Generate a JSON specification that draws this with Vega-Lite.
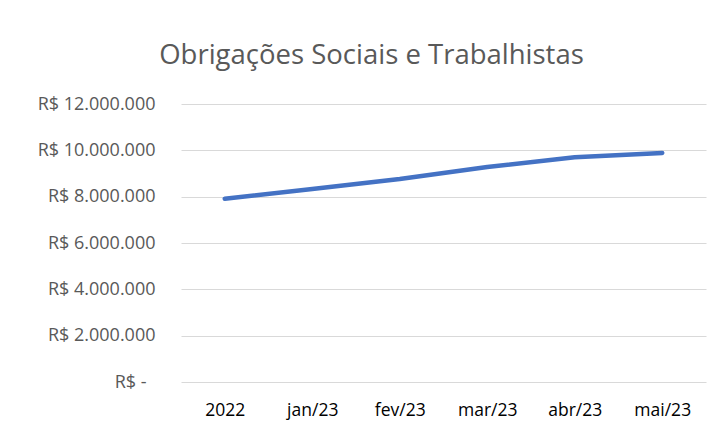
{
  "$schema": "https://vega.github.io/schema/vega-lite/v6.json",
  "autosize": {"type": "none"},
  "width": 525,
  "height": 278,
  "padding": {"left": 181, "top": 104, "right": 16, "bottom": 53},
  "background": "white",
  "title": {
    "text": "Obrigações Sociais e Trabalhistas",
    "font": "Open Sans",
    "fontSize": 27.5,
    "fontWeight": "normal",
    "color": "#595959",
    "anchor": "middle",
    "frame": "group",
    "baseline": "alphabetic",
    "offset": 4,
    "dx": -72
  },
  "data": {
    "values": [
      {"periodo": "2022", "valor": 7910000},
      {"periodo": "jan/23", "valor": 8330000},
      {"periodo": "fev/23", "valor": 8760000},
      {"periodo": "mar/23", "valor": 9280000},
      {"periodo": "abr/23", "valor": 9700000},
      {"periodo": "mai/23", "valor": 9890000}
    ]
  },
  "mark": {"type": "line", "color": "#4472C4", "strokeWidth": 4.5, "strokeCap": "round", "strokeJoin": "round"},
  "encoding": {
    "x": {
      "field": "periodo",
      "type": "ordinal",
      "sort": null,
      "scale": {"type": "point", "padding": 0.5},
      "axis": {
        "title": null,
        "labelAngle": 0,
        "domain": false,
        "ticks": false,
        "grid": false,
        "labelFont": "Open Sans",
        "labelFontSize": 17.5,
        "labelColor": "#000000",
        "labelPadding": 19
      }
    },
    "y": {
      "field": "valor",
      "type": "quantitative",
      "scale": {"domain": [0, 12000000], "nice": false},
      "axis": {
        "title": null,
        "values": [0, 2000000, 4000000, 6000000, 8000000, 10000000, 12000000],
        "labelExpr": "datum.value == 0 ? 'R$ -' : 'R$ ' + replace(format(datum.value, ',.0f'), /,/g, '.')",
        "domain": false,
        "ticks": false,
        "grid": true,
        "gridColor": "#D9D9D9",
        "gridWidth": 1,
        "labelFont": "Open Sans",
        "labelFontSize": 18,
        "labelColor": "#595959",
        "labelPadding": {"condition": {"test": "datum.value == 0", "value": 35}, "value": 26}
      }
    }
  },
  "config": {"view": {"stroke": null}}
}
